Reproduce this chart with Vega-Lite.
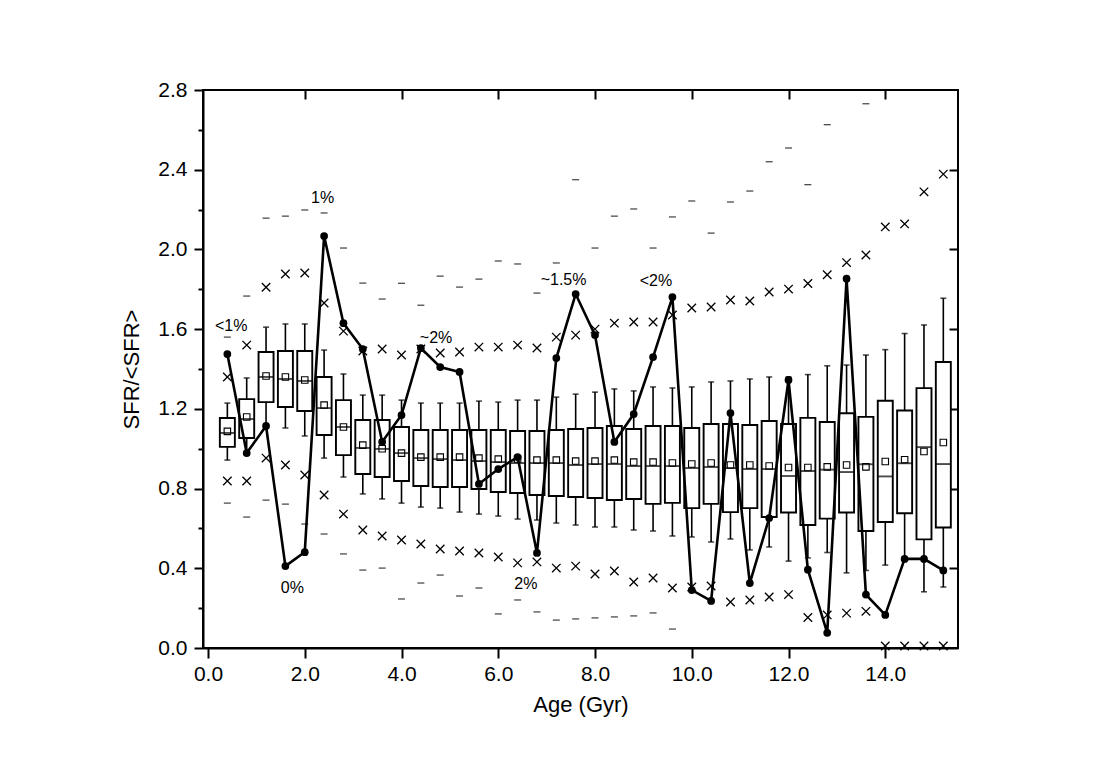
{
  "$schema": "https://vega.github.io/schema/vega-lite/v6.json",
  "width": 755,
  "height": 558,
  "autosize": "none",
  "padding": {"left": 203, "top": 90, "right": 155, "bottom": 122},
  "background": "white",
  "config": {
    "view": {"stroke": "black", "strokeWidth": 2},
    "axis": {
      "labelFont": "Liberation Sans", "titleFont": "Liberation Sans",
      "labelFontSize": 21, "titleFontSize": 22, "titleFontWeight": "normal",
      "labelColor": "black", "titleColor": "black",
      "domainColor": "black", "domainWidth": 2,
      "tickColor": "black", "tickWidth": 2, "grid": false
    }
  },
  "datasets": {
    "stats": [
      {"age": 0.4, "wlo": 0.943, "q1": 1.009, "med": 1.079, "q3": 1.154, "whi": 1.229, "mean": 1.087, "xlo": 0.838, "xhi": 1.36, "dlo": 0.727, "dhi": 1.56, "sfr": 1.475},
      {"age": 0.8, "wlo": 0.97, "q1": 1.054, "med": 1.149, "q3": 1.249, "whi": 1.355, "mean": 1.159, "xlo": 0.838, "xhi": 1.52, "dlo": 0.657, "dhi": 1.766, "sfr": 0.978},
      {"age": 1.2, "wlo": 1.12, "q1": 1.234, "med": 1.36, "q3": 1.485, "whi": 1.61, "mean": 1.365, "xlo": 0.953, "xhi": 1.81, "dlo": 0.742, "dhi": 2.157, "sfr": 1.114},
      {"age": 1.6, "wlo": 1.104, "q1": 1.209, "med": 1.35, "q3": 1.49, "whi": 1.626, "mean": 1.36, "xlo": 0.918, "xhi": 1.877, "dlo": 0.722, "dhi": 2.167, "sfr": 0.411},
      {"age": 2.0, "wlo": 1.064, "q1": 1.189, "med": 1.34, "q3": 1.49, "whi": 1.626, "mean": 1.345, "xlo": 0.868, "xhi": 1.882, "dlo": 0.622, "dhi": 2.198, "sfr": 0.481},
      {"age": 2.4, "wlo": 0.953, "q1": 1.069, "med": 1.204, "q3": 1.36, "whi": 1.495, "mean": 1.219, "xlo": 0.768, "xhi": 1.731, "dlo": 0.572, "dhi": 2.183, "sfr": 2.067},
      {"age": 2.8, "wlo": 0.858, "q1": 0.968, "med": 1.109, "q3": 1.244, "whi": 1.375, "mean": 1.109, "xlo": 0.672, "xhi": 1.59, "dlo": 0.472, "dhi": 2.007, "sfr": 1.63},
      {"age": 3.2, "wlo": 0.773, "q1": 0.873, "med": 1.004, "q3": 1.144, "whi": 1.269, "mean": 1.018, "xlo": 0.592, "xhi": 1.49, "dlo": 0.391, "dhi": 1.831, "sfr": 1.5},
      {"age": 3.6, "wlo": 0.748, "q1": 0.858, "med": 0.999, "q3": 1.144, "whi": 1.269, "mean": 1.0, "xlo": 0.562, "xhi": 1.5, "dlo": 0.401, "dhi": 1.751, "sfr": 1.034},
      {"age": 4.0, "wlo": 0.727, "q1": 0.838, "med": 0.978, "q3": 1.109, "whi": 1.244, "mean": 0.978, "xlo": 0.542, "xhi": 1.47, "dlo": 0.246, "dhi": 1.83, "sfr": 1.169},
      {"age": 4.4, "wlo": 0.707, "q1": 0.813, "med": 0.953, "q3": 1.094, "whi": 1.229, "mean": 0.958, "xlo": 0.522, "xhi": 1.5, "dlo": 0.326, "dhi": 1.72, "sfr": 1.505},
      {"age": 4.8, "wlo": 0.702, "q1": 0.808, "med": 0.948, "q3": 1.094, "whi": 1.229, "mean": 0.958, "xlo": 0.497, "xhi": 1.48, "dlo": 0.366, "dhi": 1.866, "sfr": 1.41},
      {"age": 5.2, "wlo": 0.682, "q1": 0.808, "med": 0.943, "q3": 1.094, "whi": 1.229, "mean": 0.958, "xlo": 0.487, "xhi": 1.485, "dlo": 0.261, "dhi": 1.811, "sfr": 1.385},
      {"age": 5.6, "wlo": 0.672, "q1": 0.798, "med": 0.938, "q3": 1.094, "whi": 1.239, "mean": 0.953, "xlo": 0.477, "xhi": 1.51, "dlo": 0.301, "dhi": 1.851, "sfr": 0.823},
      {"age": 6.0, "wlo": 0.662, "q1": 0.783, "med": 0.933, "q3": 1.094, "whi": 1.234, "mean": 0.948, "xlo": 0.457, "xhi": 1.51, "dlo": 0.171, "dhi": 1.942, "sfr": 0.898},
      {"age": 6.4, "wlo": 0.647, "q1": 0.778, "med": 0.928, "q3": 1.089, "whi": 1.244, "mean": 0.948, "xlo": 0.427, "xhi": 1.52, "dlo": 0.241, "dhi": 1.927, "sfr": 0.958},
      {"age": 6.8, "wlo": 0.642, "q1": 0.768, "med": 0.928, "q3": 1.089, "whi": 1.244, "mean": 0.943, "xlo": 0.432, "xhi": 1.505, "dlo": 0.181, "dhi": 1.781, "sfr": 0.477},
      {"age": 7.2, "wlo": 0.627, "q1": 0.763, "med": 0.928, "q3": 1.094, "whi": 1.259, "mean": 0.943, "xlo": 0.401, "xhi": 1.56, "dlo": 0.14, "dhi": 1.932, "sfr": 1.455},
      {"age": 7.6, "wlo": 0.617, "q1": 0.758, "med": 0.918, "q3": 1.099, "whi": 1.274, "mean": 0.938, "xlo": 0.411, "xhi": 1.57, "dlo": 0.146, "dhi": 2.35, "sfr": 1.776},
      {"age": 8.0, "wlo": 0.607, "q1": 0.753, "med": 0.923, "q3": 1.104, "whi": 1.284, "mean": 0.938, "xlo": 0.371, "xhi": 1.6, "dlo": 0.151, "dhi": 2.007, "sfr": 1.57},
      {"age": 8.4, "wlo": 0.607, "q1": 0.743, "med": 0.923, "q3": 1.114, "whi": 1.3, "mean": 0.943, "xlo": 0.386, "xhi": 1.63, "dlo": 0.156, "dhi": 2.167, "sfr": 1.034},
      {"age": 8.8, "wlo": 0.592, "q1": 0.748, "med": 0.913, "q3": 1.099, "whi": 1.29, "mean": 0.933, "xlo": 0.331, "xhi": 1.636, "dlo": 0.161, "dhi": 2.203, "sfr": 1.174},
      {"age": 9.2, "wlo": 0.587, "q1": 0.723, "med": 0.913, "q3": 1.114, "whi": 1.31, "mean": 0.933, "xlo": 0.351, "xhi": 1.636, "dlo": 0.176, "dhi": 2.007, "sfr": 1.46},
      {"age": 9.6, "wlo": 0.562, "q1": 0.728, "med": 0.913, "q3": 1.114, "whi": 1.305, "mean": 0.928, "xlo": 0.301, "xhi": 1.671, "dlo": 0.095, "dhi": 2.163, "sfr": 1.761},
      {"age": 10.0, "wlo": 0.557, "q1": 0.702, "med": 0.903, "q3": 1.104, "whi": 1.31, "mean": 0.923, "xlo": 0.306, "xhi": 1.706, "dlo": null, "dhi": 2.243, "sfr": 0.291},
      {"age": 10.4, "wlo": 0.532, "q1": 0.723, "med": 0.908, "q3": 1.124, "whi": 1.335, "mean": 0.928, "xlo": 0.311, "xhi": 1.711, "dlo": null, "dhi": 2.082, "sfr": 0.236},
      {"age": 10.8, "wlo": 0.547, "q1": 0.682, "med": 0.903, "q3": 1.124, "whi": 1.34, "mean": 0.918, "xlo": 0.231, "xhi": 1.746, "dlo": null, "dhi": 2.238, "sfr": 1.179},
      {"age": 11.2, "wlo": 0.492, "q1": 0.702, "med": 0.898, "q3": 1.119, "whi": 1.35, "mean": 0.918, "xlo": 0.241, "xhi": 1.741, "dlo": null, "dhi": 2.293, "sfr": 0.326},
      {"age": 11.6, "wlo": 0.507, "q1": 0.657, "med": 0.898, "q3": 1.139, "whi": 1.36, "mean": 0.913, "xlo": 0.256, "xhi": 1.786, "dlo": null, "dhi": 2.44, "sfr": 0.652},
      {"age": 12.0, "wlo": 0.436, "q1": 0.68, "med": 0.863, "q3": 1.124, "whi": 1.36, "mean": 0.906, "xlo": 0.268, "xhi": 1.801, "dlo": null, "dhi": 2.509, "sfr": 1.345},
      {"age": 12.4, "wlo": 0.452, "q1": 0.617, "med": 0.888, "q3": 1.155, "whi": 1.372, "mean": 0.906, "xlo": 0.153, "xhi": 1.829, "dlo": null, "dhi": 2.325, "sfr": 0.393},
      {"age": 12.8, "wlo": 0.479, "q1": 0.649, "med": 0.895, "q3": 1.134, "whi": 1.416, "mean": 0.909, "xlo": 0.166, "xhi": 1.873, "dlo": null, "dhi": 2.626, "sfr": 0.076},
      {"age": 13.2, "wlo": 0.377, "q1": 0.68, "med": 0.883, "q3": 1.178, "whi": 1.42, "mean": 0.918, "xlo": 0.175, "xhi": 1.934, "dlo": null, "dhi": null, "sfr": 1.853},
      {"age": 13.6, "wlo": 0.389, "q1": 0.587, "med": 0.922, "q3": 1.16, "whi": 1.47, "mean": 0.909, "xlo": 0.184, "xhi": 1.972, "dlo": null, "dhi": 2.731, "sfr": 0.268},
      {"age": 14.0, "wlo": 0.416, "q1": 0.632, "med": 0.861, "q3": 1.241, "whi": 1.497, "mean": 0.936, "xlo": 0.01, "xhi": 2.113, "dlo": null, "dhi": null, "sfr": 0.166},
      {"age": 14.4, "wlo": 0.44, "q1": 0.676, "med": 0.927, "q3": 1.192, "whi": 1.578, "mean": 0.945, "xlo": 0.01, "xhi": 2.128, "dlo": null, "dhi": null, "sfr": 0.447},
      {"age": 14.8, "wlo": 0.282, "q1": 0.545, "med": 1.008, "q3": 1.304, "whi": 1.621, "mean": 0.986, "xlo": 0.01, "xhi": 2.289, "dlo": null, "dhi": null, "sfr": 0.447},
      {"age": 15.2, "wlo": 0.306, "q1": 0.605, "med": 0.923, "q3": 1.435, "whi": 1.755, "mean": 1.031, "xlo": 0.01, "xhi": 2.378, "dlo": null, "dhi": null, "sfr": 0.389}
    ],
    "labels": [
      {"age": 0.48, "val": 1.616, "label": "<1%"},
      {"age": 2.37, "val": 2.258, "label": "1%"},
      {"age": 1.745, "val": 0.299, "label": "0%"},
      {"age": 4.714, "val": 1.558, "label": "~2%"},
      {"age": 6.57, "val": 0.321, "label": "2%"},
      {"age": 7.35, "val": 1.849, "label": "~1.5%"},
      {"age": 9.26, "val": 1.841, "label": "<2%"}
    ]
  },
  "data": {"name": "stats"},
  "resolve": {"axis": {"x": "independent", "y": "independent"}},
  "layer": [
    {
      "mark": {"type": "tick", "orient": "horizontal", "size": 7, "thickness": 1.3, "color": "black"},
      "encoding": {
        "x": {"field": "age", "type": "quantitative", "scale": {"domain": [0, 15.4], "nice": false, "zero": false}, "axis": null},
        "y": {"field": "dhi", "type": "quantitative", "scale": {"domain": [0, 2.8], "nice": false}, "axis": null}
      }
    },
    {
      "mark": {"type": "tick", "orient": "horizontal", "size": 7, "thickness": 1.3, "color": "black"},
      "encoding": {
        "x": {"field": "age", "type": "quantitative", "axis": null},
        "y": {"field": "dlo", "type": "quantitative", "axis": null}
      }
    },
    {
      "mark": {"type": "point", "shape": "M-1,-1L1,1M-1,1L1,-1", "size": 72, "filled": false, "stroke": "black", "strokeWidth": 1.3, "opacity": 1},
      "encoding": {
        "x": {"field": "age", "type": "quantitative", "axis": null},
        "y": {"field": "xhi", "type": "quantitative", "axis": null}
      }
    },
    {
      "mark": {"type": "point", "shape": "M-1,-1L1,1M-1,1L1,-1", "size": 72, "filled": false, "stroke": "black", "strokeWidth": 1.3, "opacity": 1},
      "encoding": {
        "x": {"field": "age", "type": "quantitative", "axis": null},
        "y": {"field": "xlo", "type": "quantitative", "axis": null}
      }
    },
    {
      "mark": {"type": "rule", "color": "black", "strokeWidth": 1.6},
      "encoding": {
        "x": {"field": "age", "type": "quantitative",
          "axis": {"title": "Age (Gyr)", "orient": "bottom", "values": [0, 2, 4, 6, 8, 10, 12, 14], "format": ".1f", "tickSize": 10, "labelPadding": 5, "titlePadding": 10}},
        "y": {"field": "wlo", "type": "quantitative",
          "axis": {"title": "SFR/<SFR>", "orient": "left",
            "values": [0, 0.2, 0.4, 0.6, 0.8, 1.0, 1.2, 1.4, 1.6, 1.8, 2.0, 2.2, 2.4, 2.6, 2.8],
            "labelExpr": "round(datum.value * 10) % 4 === 0 ? format(datum.value, '.1f') : ''",
            "tickSize": {"condition": {"test": "round(datum.value * 10) % 4 !== 0", "value": 5}, "value": 9},
            "labelPadding": 7, "titlePadding": 14}},
        "y2": {"field": "whi"}
      }
    },
    {
      "mark": {"type": "tick", "orient": "horizontal", "size": 6, "thickness": 1.6, "color": "black"},
      "encoding": {
        "x": {"field": "age", "type": "quantitative", "axis": null},
        "y": {"field": "wlo", "type": "quantitative", "axis": null}
      }
    },
    {
      "mark": {"type": "tick", "orient": "horizontal", "size": 6, "thickness": 1.6, "color": "black"},
      "encoding": {
        "x": {"field": "age", "type": "quantitative", "axis": null},
        "y": {"field": "whi", "type": "quantitative", "axis": null}
      }
    },
    {
      "mark": {"type": "bar", "width": 15, "fill": "white", "stroke": "black", "strokeWidth": 1.9},
      "encoding": {
        "x": {"field": "age", "type": "quantitative", "axis": null},
        "y": {"field": "q1", "type": "quantitative", "axis": null},
        "y2": {"field": "q3"}
      }
    },
    {
      "mark": {"type": "tick", "orient": "horizontal", "size": 15, "thickness": 1.9, "color": "black"},
      "encoding": {
        "x": {"field": "age", "type": "quantitative", "axis": null},
        "y": {"field": "med", "type": "quantitative", "axis": null}
      }
    },
    {
      "mark": {"type": "point", "shape": "square", "size": 42, "filled": false, "stroke": "black", "strokeWidth": 1.1, "opacity": 1},
      "encoding": {
        "x": {"field": "age", "type": "quantitative", "axis": null},
        "y": {"field": "mean", "type": "quantitative", "axis": null}
      }
    },
    {
      "mark": {"type": "line", "color": "black", "strokeWidth": 2.6,
        "point": {"filled": true, "size": 60, "color": "black"}},
      "encoding": {
        "x": {"field": "age", "type": "quantitative",
          "axis": {"orient": "top", "title": null, "labels": false, "domain": false, "values": [2, 4, 6, 8, 10, 12, 14], "tickSize": -9}},
        "y": {"field": "sfr", "type": "quantitative",
          "axis": {"orient": "right", "title": null, "labels": false, "domain": false, "values": [0.4, 0.8, 1.2, 1.6, 2.0, 2.4], "tickSize": -9}}
      }
    },
    {
      "data": {"name": "labels"},
      "mark": {"type": "text", "font": "Liberation Sans", "fontSize": 16, "color": "black", "align": "center", "baseline": "middle"},
      "encoding": {
        "x": {"field": "age", "type": "quantitative", "axis": null},
        "y": {"field": "val", "type": "quantitative", "axis": null},
        "text": {"field": "label"}
      }
    }
  ]
}
